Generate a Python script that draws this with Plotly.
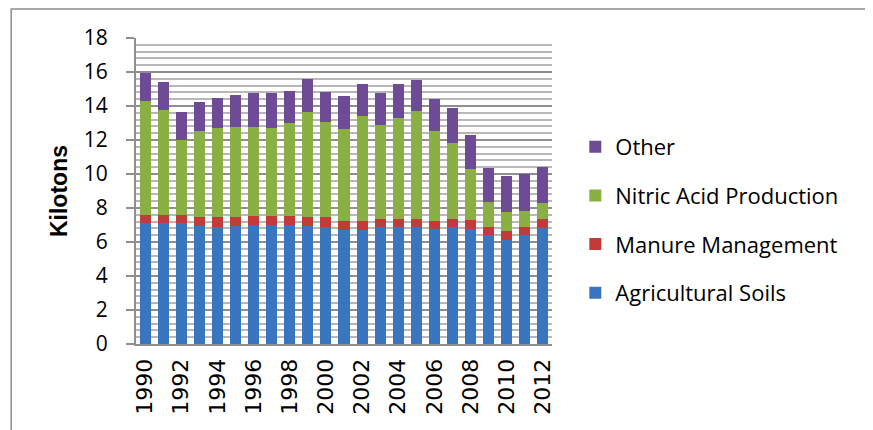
import plotly.graph_objects as go

years = [str(y) for y in range(1990, 2013)]
year_labels = years[::2]

agricultural_soils = [7.10, 7.10, 7.10, 6.96, 6.90, 6.96, 7.02, 7.02, 7.02, 6.96, 6.90, 6.73,
                      6.73, 6.90, 6.90, 6.90, 6.78, 6.90, 6.78, 6.43, 6.14, 6.43, 6.84]
manure_management = [0.51, 0.51, 0.51, 0.49, 0.55, 0.53, 0.53, 0.53, 0.53, 0.49, 0.55, 0.52,
                     0.52, 0.47, 0.47, 0.47, 0.47, 0.47, 0.53, 0.47, 0.53, 0.47, 0.53]
nitric_acid = [6.70, 6.17, 4.41, 5.10, 5.28, 5.29, 5.23, 5.18, 5.47, 6.22, 5.63, 5.42,
               6.18, 5.53, 5.94, 6.36, 5.30, 4.47, 3.00, 1.47, 1.11, 0.94, 0.94]
other = [1.65, 1.65, 1.65, 1.70, 1.76, 1.89, 2.00, 2.05, 1.88, 1.94, 1.76, 1.94,
         1.88, 1.88, 2.00, 1.82, 1.88, 2.06, 2.00, 2.00, 2.12, 2.18, 2.12]

series = [
    ('Agricultural Soils', agricultural_soils, '#3a75c0'),
    ('Manure Management', manure_management, '#c23a3a'),
    ('Nitric Acid Production', nitric_acid, '#8ab043'),
    ('Other', other, '#6d4b97'),
]

fig = go.Figure()
for i, (name, vals, col) in enumerate(series):
    # legendrank puts "Other" on top, like the original
    fig.add_trace(go.Bar(x=years, y=vals, name=name, legendgroup=str(i),
                         legendrank=1000 - i,
                         marker=dict(color=col, line=dict(width=0))))

# page body has an 8px margin, so the figure is a bit smaller than the window
fig.update_layout(
    barmode='stack',
    bargap=0.39,
    width=865, height=422,
    margin=dict(l=128, r=321, t=30, b=86),
    paper_bgcolor='white', plot_bgcolor='white',
    font=dict(family='Open Sans, Calibri, sans-serif', size=21, color='black'),
    legend=dict(x=1.056, y=0.405, xanchor='left', yanchor='middle',
                traceorder='grouped', tracegroupgap=17,
                font=dict(family='Open Sans, Calibri, sans-serif', size=22)),
    shapes=[dict(type='rect', xref='paper', yref='paper',
                 x0=-0.30, x1=2.0, y0=-0.5, y1=1.095,
                 line=dict(color='#8c8c8c', width=1.5), layer='below')],
)

fig.update_yaxes(
    range=[0, 18], dtick=2, tick0=0,
    showgrid=True, gridcolor='#8f8f8f', gridwidth=2,
    minor=dict(dtick=0.4, showgrid=True, gridcolor='#b8b8b8', gridwidth=1.5),
    showline=True, linecolor='#8f8f8f', linewidth=2,
    ticks='outside', ticklen=8, tickcolor='#8f8f8f', tickwidth=2,
    ticklabelstandoff=14,
    tickfont=dict(family='Open Sans, Calibri, sans-serif', size=21),
    title=dict(text='<b>Kilotons</b>', standoff=10,
               font=dict(family='Liberation Sans, Arial, sans-serif', size=23)),
)

fig.update_xaxes(
    type='category', tickmode='array', tickvals=year_labels, ticktext=year_labels,
    tickangle=-90, showline=True, linecolor='#8f8f8f', linewidth=2,
    ticks='', ticklabelstandoff=4,
    tickfont=dict(family='DejaVu Sans, Verdana, sans-serif', size=22),
)

fig.write_html('out.html')
